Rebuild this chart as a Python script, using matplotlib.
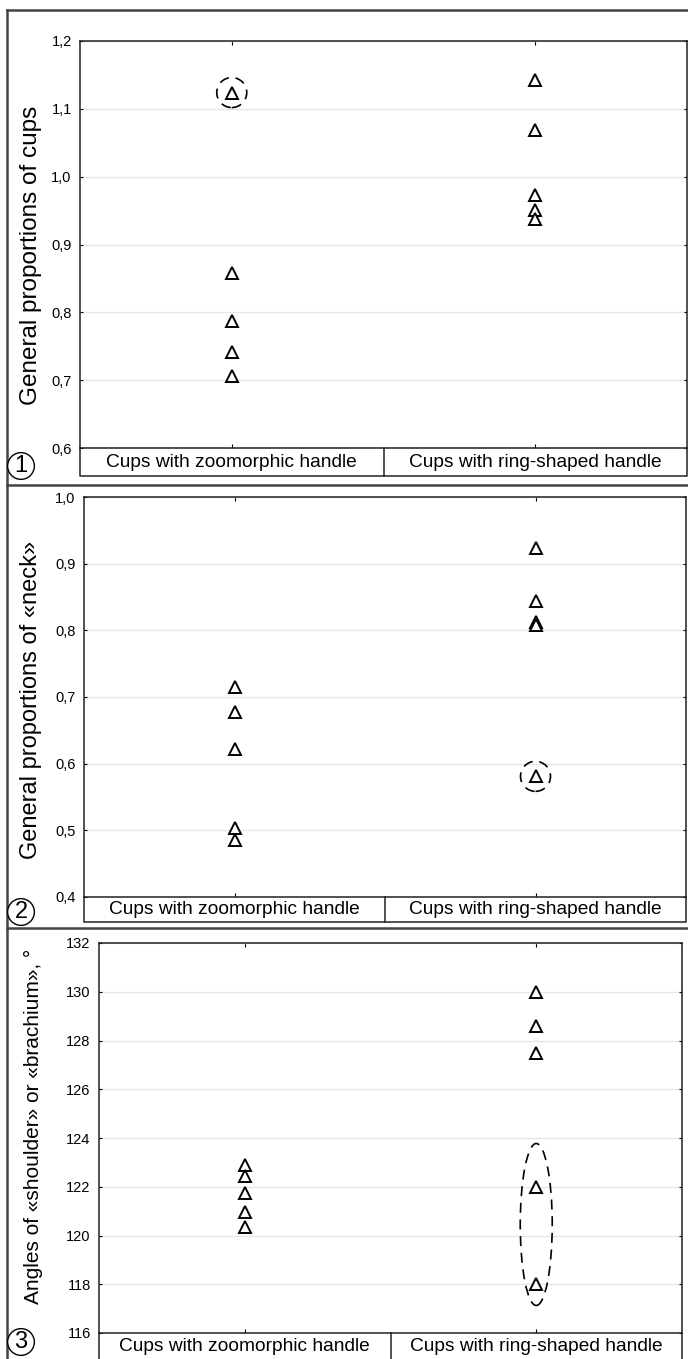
import matplotlib
matplotlib.use("Agg")
import matplotlib.pyplot as plt
from matplotlib.patches import Ellipse
from matplotlib.lines import Line2D
from matplotlib.transforms import ScaledTranslation
from matplotlib.ticker import FuncFormatter

plt.rcParams["font.family"] = ["Liberation Sans", "DejaVu Sans"]

# -----------------------------
# Data
# -----------------------------
groups = ["Cups with zoomorphic handle", "Cups with ring-shaped handle"]

# panel 1: general proportions of cups
cups_zoo = [1.124, 0.858, 0.787, 0.742, 0.706]
cups_ring = [1.143, 1.069, 0.973, 0.951, 0.938]

# panel 2: general proportions of neck
neck_zoo = [0.715, 0.678, 0.622, 0.504, 0.486]
neck_ring = [0.923, 0.844, 0.812, 0.808, 0.581]

# panel 3: shoulder / brachium angles
angle_zoo = [122.9, 122.45, 121.75, 120.95, 120.35]
angle_ring = [130.0, 128.6, 127.5, 122.0, 118.0]

ylabels = ["General proportions of cups",
           "General proportions of «neck»",
           "Angles of «shoulder» or «brachium», °"]
ylims = [(0.6, 1.2), (0.4, 1.0), (116, 132)]
ysteps = [0.1, 0.1, 2]
panel_nums = ["1", "2", "3"]

W, H = 688, 1359
fig = plt.figure(figsize=(W / 100, H / 100), dpi=100)


def rect(left, top, right, bottom):
    return [left / W, 1 - bottom / H, (right - left) / W, (bottom - top) / H]


# pixel boxes for each panel: axes (l, t, r, b), label row height
boxes = [(80, 41, 687, 448, 28), (84, 497, 686, 897, 25), (99, 943, 682, 1333, 27)]
ylab_x = [31, 31, 33]
ylab_y = [255, 700, 1126]
ylab_size = [17.5, 17, 15]
num_y = [466, 912, 1342]


def ring(ax, x, y, w_px, h_px, dy_px=0):
    tr = (fig.dpi_scale_trans + ScaledTranslation(0, dy_px / 100, fig.dpi_scale_trans)
          + ScaledTranslation(x, y, ax.transData))
    e = Ellipse((0, 0), w_px / 100, h_px / 100, transform=tr, fill=False,
                ec="black", lw=1.2, ls=(0, (6, 4)), clip_on=False, zorder=4)
    ax.add_patch(e)


data = [(cups_zoo, cups_ring), (neck_zoo, neck_ring), (angle_zoo, angle_ring)]
axes = []
for i, (l, t, r, b, lh) in enumerate(boxes):
    ax = fig.add_axes(rect(l, t, r, b))
    axes.append(ax)
    zoo, rg = data[i]
    ax.plot([0] * len(zoo), zoo, ls="none", marker="^", ms=9, mfc="white",
            mec="black", mew=1.4, zorder=3)
    ax.plot([1] * len(rg), rg, ls="none", marker="^", ms=9, mfc="white",
            mec="black", mew=1.4, zorder=3)
    ax.set_xlim(-0.5, 1.5)
    lo, hi = ylims[i]
    ax.set_ylim(lo, hi)
    n = int(round((hi - lo) / ysteps[i]))
    ax.set_yticks([lo + k * ysteps[i] for k in range(n + 1)])
    if i < 2:
        ax.yaxis.set_major_formatter(FuncFormatter(lambda v, p: f"{v:.1f}".replace(".", ",")))
    else:
        ax.yaxis.set_major_formatter(FuncFormatter(lambda v, p: f"{v:.0f}"))
    ax.grid(axis="y", color="#e6e6e6", lw=1)
    ax.set_axisbelow(True)
    ax.set_xticks([0, 1])
    ax.set_xticklabels([])
    ax.tick_params(axis="x", direction="in", length=3, top=True, width=0.8)
    ax.tick_params(axis="y", direction="in", length=2, right=True, width=0.8,
                   labelsize=10.5, pad=6)
    for s in ax.spines.values():
        s.set_linewidth(1.1)
        s.set_color("#222222")

    # label row below the axes
    frac = lh / (b - t)
    tr = ax.get_xaxis_transform()
    ax.plot([-0.5, -0.5, 1.5, 1.5], [0, -frac, -frac, 0], color="#222222",
            lw=1.1, transform=tr, clip_on=False)
    ax.plot([0.5, 0.5], [0, -frac], color="#222222", lw=1.1, transform=tr,
            clip_on=False)
    for k, g in enumerate(groups):
        ax.text(k, -frac / 2, g, transform=tr, ha="center", va="center",
                fontsize=13.8)

    fig.text(ylab_x[i] / W, 1 - ylab_y[i] / H, ylabels[i], rotation=90,
             ha="center", va="center", fontsize=ylab_size[i])

# dashed rings around outliers
ring(axes[0], 0, cups_zoo[0], 30, 30)
ring(axes[1], 1, neck_ring[-1], 30, 30)
ring(axes[2], 1, (angle_ring[3] + angle_ring[4]) / 2, 32, 162, dy_px=11)

# circled panel numbers
for y, num in zip(num_y, panel_nums):
    fig.text(21 / W, 1 - y / H, num, ha="center", va="center",
             fontsize=17, bbox=dict(boxstyle="circle,pad=0.1", fc="white",
                                    ec="black", lw=1.0))

# outer frame
for y in [10, 485, 928]:
    fig.add_artist(Line2D([7 / W, 1], [1 - y / H, 1 - y / H], color="#444444", lw=1.8))
fig.add_artist(Line2D([7 / W, 7 / W], [1 - 10 / H, 0], color="#444444", lw=1.8))

fig.savefig("out.png", dpi=100, facecolor="white")
